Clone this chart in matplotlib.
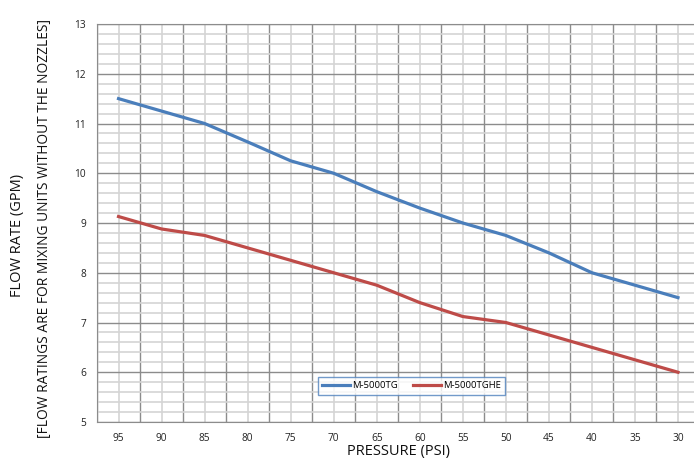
import numpy as np
import matplotlib
matplotlib.use('Agg')
import matplotlib.pyplot as plt

plt.rcParams['font.family'] = ['Open Sans', 'DejaVu Sans']

pressure = ['95', '90', '85', '80', '75', '70', '65', '60', '55', '50', '45', '40', '35', '30']
tg = [11.5, 11.25, 11.0, 10.63, 10.25, 10.0, 9.63, 9.3, 9.0, 8.75, 8.4, 8.0, 7.75, 7.5]
tghe = [9.13, 8.88, 8.75, 8.5, 8.25, 8.0, 7.75, 7.4, 7.12, 7.0, 6.75, 6.5, 6.25, 6.0]

dark = '#8c8c8c'
light = '#d4d4d4'

fig = plt.figure(figsize=(6.94, 4.63), dpi=100)
ax = fig.add_axes([97/694, 1-422/463, (699.5-97)/694, (422-24)/463])

x = np.arange(len(pressure))
ax.plot(x, tg, color='#4a7ebb', linewidth=2.3, label='M-5000TG', zorder=3)
ax.plot(x, tghe, color='#be4b48', linewidth=2.3, label='M-5000TGHE', zorder=3)

ax.set_xlim(-0.5, len(pressure) - 0.5)
ax.set_ylim(5, 13)
ax.set_xticks(x)
ax.set_xticklabels(pressure)
ax.set_xticks(np.arange(-0.5, len(pressure), 1), minor=True)
ax.set_yticks(np.arange(5, 14, 1))
ax.set_yticks(np.arange(5, 13.01, 0.2), minor=True)

ax.grid(which='major', axis='x', color=light, linewidth=1.2)
ax.grid(which='minor', axis='x', color=dark, linewidth=1.0)
ax.grid(which='major', axis='y', color=dark, linewidth=1.0)
ax.grid(which='minor', axis='y', color=light, linewidth=1.2)
ax.set_axisbelow(True)

ax.tick_params(which='both', length=0, labelsize=7.3, colors='#222222')
ax.tick_params(axis='x', pad=8)
ax.tick_params(axis='y', pad=8)
for s in ax.spines.values():
    s.set_color(dark)

ax.set_xlabel('PRESSURE (PSI)', fontsize=10.5, color='#111111', labelpad=0)
fig.text(18/694, 1-235/463, 'FLOW RATE (GPM)', rotation=90, ha='center', va='center',
         fontsize=10.5, color='#111111')
fig.text(45/694, 1-228/463, '[FLOW RATINGS ARE FOR MIXING UNITS WITHOUT THE NOZZLES]',
         rotation=90, ha='center', va='center', fontsize=9.9, color='#111111')

leg = ax.legend(loc='center', bbox_to_anchor=(411.5/694, 1-386/463), bbox_transform=fig.transFigure,
                ncol=2, fontsize=6.8, frameon=True, fancybox=False, handlelength=3.0,
                borderpad=0.45, columnspacing=1.6, handletextpad=0.2)
leg.get_frame().set_edgecolor('#4f81bd')
leg.get_frame().set_linewidth(1.0)

fig.savefig('out.png', dpi=100)
